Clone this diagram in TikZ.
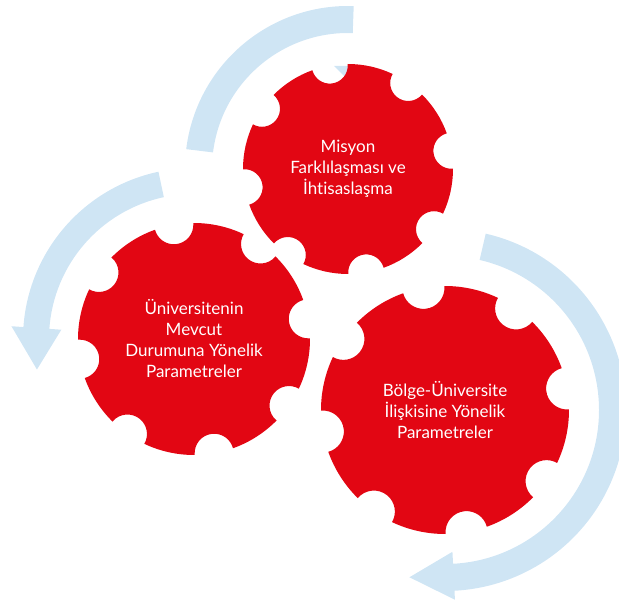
\documentclass[tikz,border=0pt]{standalone}
\usepackage{fontspec}
\setmainfont{Lato}[Ligatures=NoCommon]
\usetikzlibrary{calc}

\definecolor{gearRed}{RGB}{226,6,19}
\definecolor{arcBlue}{RGB}{207,229,244}

\tikzset{
    gearFill/.style={fill=gearRed},
    arcFill/.style={fill=arcBlue},
    gearText/.style={text=white, align=center, inner sep=0pt, font=\fontsize{17}{21}\selectfont},
}

% gear with 8 round notches: name, centre, R, notch radius, label
\newcommand{\drawGear}[5]{
    \pgfmathsetmacro{\notchD}{2*asin(#4/(2*#3))}
    \pgfmathsetmacro{\notchB}{acos(#4/(2*#3))}
    \fill[gearFill] ($(#2)+(10+\notchD:#3)$)
        \foreach \k in {1,...,8}{
            arc[start angle={10+45*(\k-1)+\notchD}, end angle={10+45*\k-\notchD}, radius=#3]
            arc[start angle={190+45*\k+\notchB}, end angle={190+45*\k-\notchB}, radius=#4]
        } -- cycle;
    \node[gearText] (#1) at (#2) {#5};
}

\begin{document}
\begin{tikzpicture}[x=1pt, y=1pt]
    \useasboundingbox (0,0) rectangle (619,606);

    \coordinate (cT) at (348,437);
    \coordinate (cL) at (194,267);
    \coordinate (cG) at (445,196);

    % blue arcs
    \fill[arcFill] ($(cT)+(88:163)$) arc[start angle=88, end angle=173, radius=163]
        -- ($(cT)+(173:136)$) arc[start angle=173, end angle=88, radius=136] -- cycle;
    \fill[arcFill] (352,540) -- (352,522) -- (334,540) -- cycle;

    \fill[arcFill] ($(cL)+(102:171)$) arc[start angle=102, end angle=176, radius=171]
        -- ($(cL)+(176:183)$) -- ($(cL)+(191:160)$) -- ($(cL)+(176:133)$)
        -- ($(cL)+(176:145)$) arc[start angle=176, end angle=102, radius=145] -- cycle;

    \fill[arcFill] ($(cG)+(77:181)$) arc[start angle=77, end angle=-87, radius=181]
        -- ($(cG)+(-87:190)$) -- ($(cG)+(-102:171)$) -- ($(cG)+(-87:142)$)
        -- ($(cG)+(-87:154)$) arc[start angle=-87, end angle=77, radius=154] -- cycle;

    % gears
    \drawGear{misyon}{cT}{105}{18}{Misyon\\Farklılaşması ve\\İhtisaslaşma}
    \drawGear{mevcut}{cL}{116}{19.5}{Üniversitenin\\Mevcut\\Durumuna Yönelik\\Parametreler}
    \drawGear{bolge}{cG}{124}{21}{Bölge-Üniversite\\İlişkisine Yönelik\\Parametreler}

\end{tikzpicture}
\end{document}
